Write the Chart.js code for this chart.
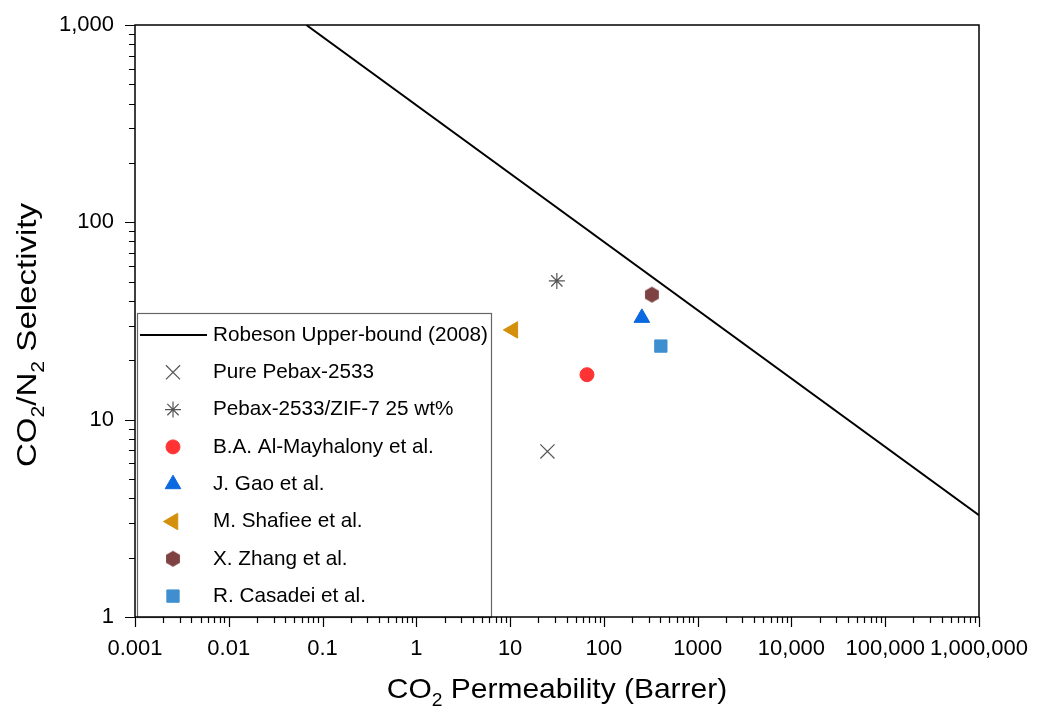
<!DOCTYPE html>
<html>
<head>
<meta charset="utf-8">
<script src="https://cdn.jsdelivr.net/npm/chart.js@4.4.0/dist/chart.umd.min.js"></script>
<style>
  html, body { margin: 0; padding: 0; background: #fff; }
  #wrap { width: 1042px; height: 706px; position: relative; }
</style>
</head>
<body>
<div id="wrap"><canvas id="myChart"></canvas></div>
<script>
// CO2/N2 separation data (permeability in Barrer, selectivity)
const seriesNames = [
  "Pure Pebax-2533",
  "Pebax-2533/ZIF-7 25 wt%",
  "B.A. Al-Mayhalony et al.",
  "J. Gao et al.",
  "M. Shafiee et al.",
  "X. Zhang et al.",
  "R. Casadei et al.",
];
const permeability = [25, 31.5, 66, 254, 10.7, 325, 405];
const selectivity = [6.9, 50.5, 16.9, 32.8, 28.5, 43, 23.6];

// Robeson 2008 upper bound end points
const robesonLabel = "Robeson Upper-bound (2008)";
const robesonX = [0.0671, 1000000];
const robesonY = [1000, 3.28];

const xTickValues = [0.001, 0.01, 0.1, 1, 10, 100, 1000, 10000, 100000, 1000000];
const xTickLabels = ["0.001", "0.01", "0.1", "1", "10", "100", "1000", "10,000", "100,000", "1,000,000"];
const yTickValues = [1, 10, 100, 1000];
const yTickLabels = ["1", "10", "100", "1,000"];

function hexagon(color, r) {
  const c = document.createElement("canvas");
  const s = Math.ceil(r * 2) + 2;
  c.width = s;
  c.height = s;
  const g = c.getContext("2d");
  g.fillStyle = color;
  g.beginPath();
  for (let i = 0; i < 6; i++) {
    const a = -Math.PI / 2 + i * Math.PI / 3;
    const px = s / 2 + Math.cos(a) * r;
    const py = s / 2 + Math.sin(a) * r;
    if (i === 0) g.moveTo(px, py); else g.lineTo(px, py);
  }
  g.closePath();
  g.fill();
  return c;
}

const markerStyles = [
  { pointStyle: "crossRot", radius: 10, rotation: 0, color: "#555555", fill: false, borderWidth: 1.2 },
  { pointStyle: "star", radius: 8, rotation: 0, color: "#555555", fill: false, borderWidth: 1.2 },
  { pointStyle: "circle", radius: 7, rotation: 0, color: "#ff3333", fill: true, borderWidth: 1 },
  { pointStyle: "triangle", radius: 9, rotation: 0, color: "#0a68e0", fill: true, borderWidth: 1 },
  { pointStyle: "triangle", radius: 9.5, rotation: -90, color: "#d4900a", fill: true, borderWidth: 1 },
  { pointStyle: hexagon("#7f4242", 8), radius: 8, rotation: 0, color: "#7f4242", fill: true, borderWidth: 0 },
  { pointStyle: "rect", radius: 8.7, rotation: 0, color: "#3f8fd0", fill: true, borderWidth: 1 },
];

const datasets = [{
  type: "line",
  label: robesonLabel,
  data: robesonX.map((x, i) => ({ x: x, y: robesonY[i] })),
  borderColor: "#000",
  borderWidth: 2,
  pointRadius: 0,
  showLine: true,
  fill: false,
}];
seriesNames.forEach((name, i) => {
  const m = markerStyles[i];
  datasets.push({
    label: name,
    data: [{ x: permeability[i], y: selectivity[i] }],
    pointStyle: m.pointStyle,
    pointRotation: m.rotation,
    pointRadius: m.radius,
    pointBorderWidth: m.borderWidth,
    pointBorderColor: m.color,
    pointBackgroundColor: m.fill ? m.color : "transparent",
  });
});

function minorValues(lo, hi) {
  const out = [];
  for (let p = Math.log10(lo); p < Math.log10(hi); p++) {
    for (let k = 2; k <= 9; k++) out.push(k * Math.pow(10, p));
  }
  return out;
}

// text with subscript runs, optionally stretched horizontally
function drawRuns(ctx, runs, cx, baseY, size, stretch) {
  const subSize = Math.round(size * 0.65);
  let total = 0;
  runs.forEach(r => {
    ctx.font = (r[1] ? subSize : size) + "px Arial, 'Liberation Sans', sans-serif";
    total += ctx.measureText(r[0]).width;
  });
  ctx.save();
  ctx.translate(cx, baseY);
  ctx.scale(stretch, 1);
  let x = -total / 2;
  ctx.textAlign = "left";
  ctx.textBaseline = "alphabetic";
  runs.forEach(r => {
    ctx.font = (r[1] ? subSize : size) + "px Arial, 'Liberation Sans', sans-serif";
    ctx.fillText(r[0], x, r[1] ? size * 0.3 : 0);
    x += ctx.measureText(r[0]).width;
  });
  ctx.restore();
}

const framePlugin = {
  id: "frame",
  beforeDraw(chart) {
    const ctx = chart.ctx;
    ctx.save();
    ctx.fillStyle = "#fff";
    ctx.fillRect(0, 0, chart.width, chart.height);
    ctx.restore();
  },
  afterDraw(chart) {
    const ctx = chart.ctx;
    const a = chart.chartArea;
    const xs = chart.scales.x;
    const ys = chart.scales.y;
    ctx.save();

    // legend box
    const lx = a.left + 2, ly = 313, lw = 491 - lx, lh = a.bottom - ly;
    ctx.fillStyle = "#fff";
    ctx.fillRect(lx, ly, lw, lh);
    ctx.strokeStyle = "#666";
    ctx.lineWidth = 1.2;
    ctx.strokeRect(lx + 0.5, ly + 0.5, lw, lh);

    const rowY = i => 335 + i * 37.3;
    ctx.fillStyle = "#000";
    ctx.font = "20.7px Arial, 'Liberation Sans', sans-serif";
    ctx.textAlign = "left";
    ctx.textBaseline = "middle";
    ctx.strokeStyle = "#000";
    ctx.lineWidth = 2;
    ctx.beginPath();
    ctx.moveTo(140, rowY(0));
    ctx.lineTo(207, rowY(0));
    ctx.stroke();
    ctx.fillText(robesonLabel, 213, rowY(0));
    seriesNames.forEach((name, i) => {
      const m = markerStyles[i];
      const y = rowY(i + 1);
      ctx.fillStyle = m.color;
      ctx.strokeStyle = m.color;
      ctx.lineWidth = m.borderWidth;
      Chart.helpers.drawPoint(ctx, {
        pointStyle: m.pointStyle, rotation: m.rotation,
        radius: m.radius, borderWidth: m.borderWidth,
      }, 173, y);
      ctx.fillStyle = "#000";
      ctx.fillText(name, 213, y);
    });

    // plot frame
    ctx.strokeStyle = "#000";
    ctx.lineWidth = 1.5;
    ctx.strokeRect(a.left, a.top, a.right - a.left, a.bottom - a.top);

    // tick marks, pointing outward
    ctx.lineWidth = 1.2;
    ctx.beginPath();
    xTickValues.forEach(v => {
      const px = Math.round(xs.getPixelForValue(v)) + 0.5;
      ctx.moveTo(px, a.bottom); ctx.lineTo(px, a.bottom + 10);
    });
    minorValues(0.001, 1000000).forEach(v => {
      const px = Math.round(xs.getPixelForValue(v)) + 0.5;
      ctx.moveTo(px, a.bottom); ctx.lineTo(px, a.bottom + 6);
    });
    yTickValues.forEach(v => {
      const py = Math.round(ys.getPixelForValue(v)) + 0.5;
      ctx.moveTo(a.left, py); ctx.lineTo(a.left - 10, py);
    });
    minorValues(1, 1000).forEach(v => {
      const py = Math.round(ys.getPixelForValue(v)) + 0.5;
      ctx.moveTo(a.left, py); ctx.lineTo(a.left - 6, py);
    });
    ctx.stroke();

    // axis titles
    ctx.fillStyle = "#000";
    drawRuns(ctx, [["CO", false], ["2", true], [" Permeability (Barrer)", false]],
      (a.left + a.right) / 2, 698, 28, 1.07);
    ctx.translate(36, 335);
    ctx.rotate(-Math.PI / 2);
    drawRuns(ctx, [["CO", false], ["2", true], ["/N", false], ["2", true], [" Selectivity", false]],
      0, 0, 28, 1.18);
    ctx.restore();
  },
};

const tickFont = { family: "Arial, 'Liberation Sans', sans-serif", size: 22 };

new Chart(document.getElementById("myChart"), {
  type: "scatter",
  data: { datasets: datasets },
  options: {
    responsive: true,
    maintainAspectRatio: false,
    animation: false,
    layout: { padding: { left: 0, right: 63, top: 25, bottom: 0 } },
    plugins: {
      legend: { display: false },
      tooltip: { enabled: false },
    },
    scales: {
      x: {
        type: "logarithmic",
        min: 0.001,
        max: 1000000,
        afterBuildTicks: s => { s.ticks = xTickValues.map(v => ({ value: v })); },
        afterFit: s => { s.height = 89; s.paddingLeft = 0; s.paddingRight = 0; },
        ticks: {
          autoSkip: false,
          maxRotation: 0,
          padding: 19,
          color: "#000",
          font: tickFont,
          callback: (v, i) => xTickLabels[i],
        },
        grid: { display: false, drawTicks: false },
        border: { display: false },
      },
      y: {
        type: "logarithmic",
        min: 1,
        max: 1000,
        afterBuildTicks: s => { s.ticks = yTickValues.map(v => ({ value: v })); },
        afterFit: s => { s.width = 135; s.paddingTop = 0; s.paddingBottom = 0; },
        ticks: {
          autoSkip: false,
          padding: 21,
          color: "#000",
          font: tickFont,
          callback: (v, i) => yTickLabels[i],
        },
        grid: { display: false, drawTicks: false },
        border: { display: false },
      },
    },
  },
  plugins: [framePlugin],
});
</script>
</body>
</html>
